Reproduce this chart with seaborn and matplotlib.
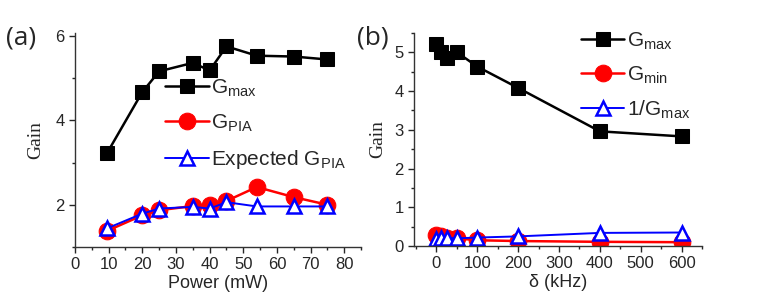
import numpy as np
import pandas as pd
import seaborn as sns
import matplotlib.pyplot as plt
from matplotlib.ticker import MultipleLocator

# panel (a): gain vs pump power
power = [9.5, 20, 25, 35, 40, 45, 54, 65, 75]
g_max_a = [3.22, 4.67, 5.16, 5.36, 5.18, 5.75, 5.53, 5.51, 5.44]
g_pia = [1.38, 1.75, 1.87, 1.97, 2.00, 2.09, 2.42, 2.18, 2.00]
g_pia_expected = [1.44, 1.79, 1.91, 1.95, 1.91, 2.06, 1.96, 1.96, 1.96]

# panel (b): gain vs detuning
delta = [0, 10, 25, 50, 100, 200, 400, 600]
g_max_b = [5.22, 5.01, 4.84, 5.00, 4.63, 4.08, 2.96, 2.83]
g_min = [0.28, 0.25, 0.22, 0.20, 0.15, 0.13, 0.11, 0.10]
inv_g_max = [0.19, 0.20, 0.21, 0.20, 0.22, 0.25, 0.34, 0.35]

sns.set_style("ticks")
plt.rcParams['font.family'] = ['Liberation Sans', 'DejaVu Sans']
plt.rcParams['mathtext.fontset'] = 'custom'
plt.rcParams['mathtext.rm'] = 'Liberation Sans'

fig = plt.figure(figsize=(7.63, 2.99), dpi=100)
axa = fig.add_axes([0.0983, 0.174, 0.375, 0.716])
axb = fig.add_axes([0.5426, 0.177, 0.3774, 0.713])

sq = dict(marker='s', color='black', markersize=10, linewidth=1.8,
          markeredgecolor='black')
ci = dict(marker='o', color='red', markersize=12, linewidth=1.8,
          markeredgecolor='red')
tri = dict(marker='^', color='blue', markersize=10, linewidth=1.4,
           markerfacecolor='white', markeredgecolor='blue', markeredgewidth=1.8)

# (a)
sns.lineplot(x=power, y=g_max_a, ax=axa, sort=False, label=r'G$_{\mathregular{max}}$', **sq)
sns.lineplot(x=power, y=g_pia, ax=axa, sort=False, label=r'G$_{\mathregular{PIA}}$', **ci)
sns.lineplot(x=power, y=g_pia_expected, ax=axa, sort=False,
             label=r'Expected G$_{\mathregular{PIA}}$', **tri)
axa.set_xlim(0, 85)
axa.set_ylim(1.0, 6.07)
axa.set_xticks(range(0, 81, 10))
axa.set_yticks([2, 4, 6])
axa.xaxis.set_minor_locator(MultipleLocator(5))
axa.yaxis.set_minor_locator(MultipleLocator(1))
axa.set_xlabel('Power (mW)', fontsize=13, labelpad=2)
axa.set_ylabel('Gain', fontsize=14, family='Liberation Serif', labelpad=8)
axa.legend(loc='upper left', bbox_to_anchor=(0.285, 0.83), frameon=False,
           fontsize=15, handlelength=2.1, handletextpad=0.1, labelspacing=0.65,
           borderaxespad=0)
fig.text(0.008, 0.85, '(a)', fontsize=19, family='Open Sans')

# (b)
sns.lineplot(x=delta, y=g_max_b, ax=axb, sort=False, label=r'G$_{\mathregular{max}}$', **sq)
sns.lineplot(x=delta, y=g_min, ax=axb, sort=False, label=r'G$_{\mathregular{min}}$', **ci)
sns.lineplot(x=delta, y=inv_g_max, ax=axb, sort=False, label=r'1/G$_{\mathregular{max}}$', **tri)
axb.set_xlim(-55, 650)
axb.set_ylim(0, 5.5)
axb.set_xticks(range(0, 601, 100))
axb.set_yticks(range(0, 6))
axb.xaxis.set_minor_locator(MultipleLocator(50))
axb.yaxis.set_minor_locator(MultipleLocator(0.5))
axb.set_xlabel('δ (kHz)', fontsize=13, labelpad=2)
axb.set_ylabel('Gain', fontsize=14, family='Liberation Serif', labelpad=6)
axb.legend(loc='upper left', bbox_to_anchor=(0.55, 1.05), frameon=False,
           fontsize=15, handlelength=2.1, handletextpad=0.1, labelspacing=0.6,
           borderaxespad=0)
fig.text(0.468, 0.85, '(b)', fontsize=19, family='Open Sans')

for ax in (axa, axb):
    sns.despine(ax=ax)
    ax.tick_params(which='major', length=4, width=1, labelsize=12, direction='out')
    ax.tick_params(which='minor', length=2, width=1, direction='out')
    for s in ax.spines.values():
        s.set_linewidth(1)
        s.set_color('#333333')

fig.savefig('out.png', dpi=100)
